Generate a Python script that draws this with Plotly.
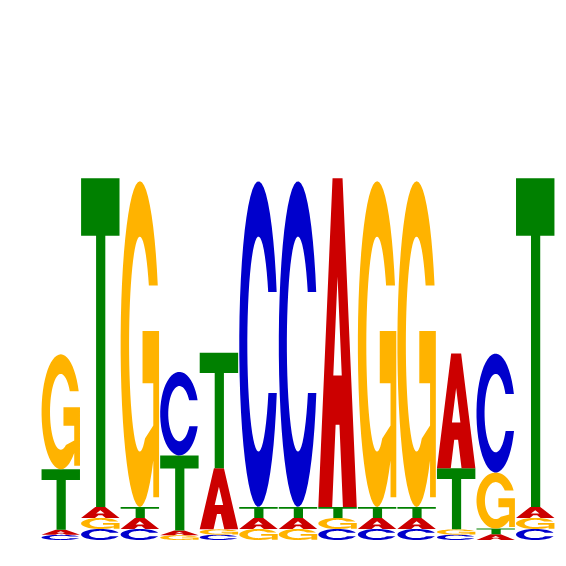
import math
import numpy as np
import plotly.graph_objects as go

# ---------- Data (bits per base) ----------
positions = list(range(1, 14))
bases = ["A", "C", "G", "T"]

bits_A = [0.027, 0.058, 0.058, 0.025, 0.321, 0.058, 0.058, 1.730, 0.058, 0.058, 0.605, 0.030, 0.058]
bits_C = [0.027, 0.058, 0.058, 0.440, 0.028, 1.714, 1.714, 0.058, 0.058, 0.058, 0.028, 0.626, 0.058]
bits_G = [0.605, 0.058, 1.714, 0.025, 0.028, 0.058, 0.058, 0.058, 1.714, 1.714, 0.028, 0.295, 0.058]
bits_T = [0.318, 1.730, 0.058, 0.395, 0.608, 0.058, 0.058, 0.058, 0.058, 0.058, 0.321, 0.030, 1.730]

colors = {"A": "#CC0000", "C": "#0000CC", "G": "#FFB300", "T": "#008000"}
tie_order = {"C": 0, "G": 1, "A": 2, "T": 3}   # stacking order when heights are equal


# ---------- Glyphs in a unit box (u right, v up) ----------
def arc(cx, cy, rx, ry, t0, t1, n=48):
    return [(cx + rx * math.cos(t), cy + ry * math.sin(t)) for t in np.linspace(t0, t1, n)]


def glyph_A():
    outer = [(0, 0), (0.37, 1), (0.63, 1), (1, 0), (0.64, 0), (0.55, 0.25), (0.45, 0.25), (0.36, 0)]
    hole = [(0.39, 0.40), (0.61, 0.40), (0.5, 0.70)]
    return [outer, hole]


def glyph_C():
    rxi, ryi, vt, vb = 0.29, 0.33, 0.66, 0.35
    t_top = math.asin((vt - 0.5) / 0.5)
    t_bot = math.asin((vb - 0.5) / 0.5)
    p_top = math.asin((vt - 0.5) / ryi)
    p_bot = math.asin((vb - 0.5) / ryi)
    pts = arc(0.5, 0.5, 0.5, 0.5, t_top, 2 * math.pi + t_bot)
    pts += arc(0.5, 0.5, rxi, ryi, 2 * math.pi + p_bot, p_top)
    return [pts]


def glyph_G():
    rxi, ryi, vt = 0.28, 0.33, 0.68
    t_top = math.asin((vt - 0.5) / 0.5)
    p_top = math.asin((vt - 0.5) / ryi)
    pts = arc(0.5, 0.5, 0.5, 0.5, t_top, 2 * math.pi - math.acos(0.7))
    pts += [(0.85, 0.03), (1.0, 0.03), (1.0, 0.54), (0.57, 0.54),
            (0.57, 0.38), (0.85, 0.38), (0.85, 0.25)]
    pts += arc(0.5, 0.5, rxi, ryi, 2 * math.pi - 1.07, p_top)
    return [pts]


def glyph_T():
    return [[(0, 1), (1, 1), (1, 0.825), (0.63, 0.825), (0.63, 0),
             (0.39, 0), (0.39, 0.825), (0, 0.825)]]


glyphs = {"A": glyph_A(), "C": glyph_C(), "G": glyph_G(), "T": glyph_T()}


def letter_path(letter, xc, y0, h, w=0.972):
    parts = []
    for poly in glyphs[letter]:
        seg = " L ".join(f"{xc - w / 2 + u * w:.4f},{y0 + v * h:.5f}" for u, v in poly)
        parts.append("M " + seg + " Z")
    return " ".join(parts)


# ---------- Build the logo ----------
heights = {"A": bits_A, "C": bits_C, "G": bits_G, "T": bits_T}
shapes = []
for i, pos in enumerate(positions):
    col = sorted(bases, key=lambda b: (heights[b][i], tie_order[b]))
    y0 = 0.0
    for b in col:
        h = heights[b][i]
        shapes.append(dict(type="path", xref="x", yref="y",
                           path=letter_path(b, pos, y0, h),
                           fillcolor=colors[b], line=dict(width=0), layer="above"))
        y0 += h

fig = go.Figure(go.Scatter(x=positions, y=[0] * len(positions), mode="markers",
                           marker=dict(opacity=0), hoverinfo="skip"))
fig.update_layout(
    width=566, height=566,
    margin=dict(l=33, r=19, t=152, b=34),
    plot_bgcolor="white", paper_bgcolor="white",
    showlegend=False,
    shapes=shapes,
    xaxis=dict(range=[0.5, 13.5], visible=False),
    yaxis=dict(range=[0, 2], visible=False),
)

fig.write_html("out.html")
